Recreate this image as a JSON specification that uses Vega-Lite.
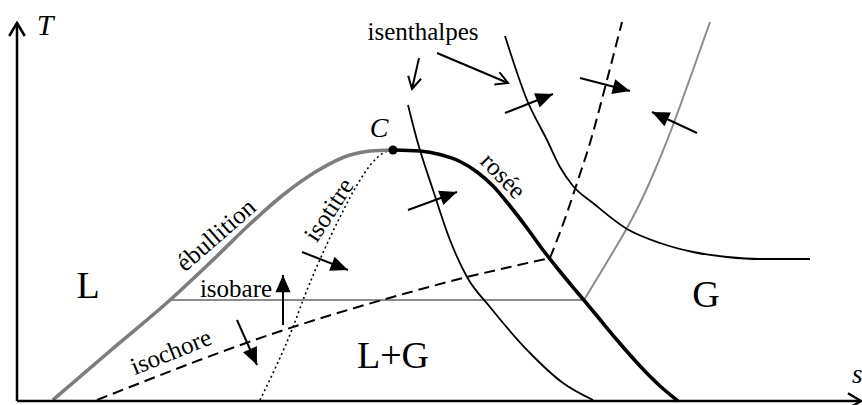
{
  "$schema": "https://vega.github.io/schema/vega-lite/v6.json",
  "width": 862,
  "height": 405,
  "padding": 0,
  "autosize": {"type": "none"},
  "config": {"view": {"stroke": null}, "font": "Liberation Serif", "text": {"font": "Liberation Serif"}},
  "datasets": {
    "curves": [
      {"curve": "ebullition", "i": 0, "s": 53, "T": 5},
      {"curve": "ebullition", "i": 1, "s": 110, "T": 54},
      {"curve": "ebullition", "i": 2, "s": 170, "T": 105},
      {"curve": "ebullition", "i": 3, "s": 215, "T": 147},
      {"curve": "ebullition", "i": 4, "s": 250, "T": 181},
      {"curve": "ebullition", "i": 5, "s": 283, "T": 210},
      {"curve": "ebullition", "i": 6, "s": 317, "T": 234},
      {"curve": "ebullition", "i": 7, "s": 350, "T": 250},
      {"curve": "ebullition", "i": 8, "s": 370, "T": 254},
      {"curve": "ebullition", "i": 9, "s": 393, "T": 255},

      {"curve": "rosee", "i": 0, "s": 393, "T": 255},
      {"curve": "rosee", "i": 1, "s": 420, "T": 254},
      {"curve": "rosee", "i": 2, "s": 440, "T": 250.5},
      {"curve": "rosee", "i": 3, "s": 460, "T": 243.5},
      {"curve": "rosee", "i": 4, "s": 477, "T": 233},
      {"curve": "rosee", "i": 5, "s": 493, "T": 219},
      {"curve": "rosee", "i": 6, "s": 510, "T": 199},
      {"curve": "rosee", "i": 7, "s": 527, "T": 177},
      {"curve": "rosee", "i": 8, "s": 543, "T": 155},
      {"curve": "rosee", "i": 9, "s": 560, "T": 133.5},
      {"curve": "rosee", "i": 10, "s": 577, "T": 113},
      {"curve": "rosee", "i": 11, "s": 595, "T": 91.5},
      {"curve": "rosee", "i": 12, "s": 617, "T": 65},
      {"curve": "rosee", "i": 13, "s": 640, "T": 39},
      {"curve": "rosee", "i": 14, "s": 660, "T": 19},
      {"curve": "rosee", "i": 15, "s": 678, "T": 4},

      {"curve": "isobare_liq", "i": 0, "s": 170, "T": 105},
      {"curve": "isobare_liq", "i": 1, "s": 584, "T": 105},
      {"curve": "isobare_vap", "i": 0, "s": 584, "T": 105},
      {"curve": "isobare_vap", "i": 1, "s": 610, "T": 148},
      {"curve": "isobare_vap", "i": 2, "s": 627, "T": 177},
      {"curve": "isobare_vap", "i": 3, "s": 643, "T": 208},
      {"curve": "isobare_vap", "i": 4, "s": 655, "T": 235},
      {"curve": "isobare_vap", "i": 5, "s": 670, "T": 272},
      {"curve": "isobare_vap", "i": 6, "s": 693, "T": 335},
      {"curve": "isobare_vap", "i": 7, "s": 710, "T": 383},

      {"curve": "isochore_liq", "i": 0, "s": 97, "T": 5},
      {"curve": "isochore_liq", "i": 1, "s": 293, "T": 78},
      {"curve": "isochore_liq", "i": 2, "s": 407, "T": 112},
      {"curve": "isochore_liq", "i": 3, "s": 467, "T": 128},
      {"curve": "isochore_liq", "i": 4, "s": 510, "T": 138},
      {"curve": "isochore_liq", "i": 5, "s": 550, "T": 147},
      {"curve": "isochore_vap", "i": 0, "s": 550, "T": 147},
      {"curve": "isochore_vap", "i": 1, "s": 567, "T": 192},
      {"curve": "isochore_vap", "i": 2, "s": 577, "T": 222},
      {"curve": "isochore_vap", "i": 3, "s": 590, "T": 262},
      {"curve": "isochore_vap", "i": 4, "s": 607, "T": 325},
      {"curve": "isochore_vap", "i": 5, "s": 622, "T": 383},

      {"curve": "isotitre", "i": 0, "s": 260, "T": 5},
      {"curve": "isotitre", "i": 1, "s": 293, "T": 78},
      {"curve": "isotitre", "i": 2, "s": 305, "T": 110},
      {"curve": "isotitre", "i": 3, "s": 322, "T": 150},
      {"curve": "isotitre", "i": 4, "s": 340, "T": 188},
      {"curve": "isotitre", "i": 5, "s": 357, "T": 220},
      {"curve": "isotitre", "i": 6, "s": 372, "T": 242},
      {"curve": "isotitre", "i": 7, "s": 385, "T": 253},
      {"curve": "isotitre", "i": 8, "s": 392, "T": 255},

      {"curve": "isenthalpe_1", "i": 0, "s": 408, "T": 300},
      {"curve": "isenthalpe_1", "i": 1, "s": 417, "T": 265},
      {"curve": "isenthalpe_1", "i": 2, "s": 433, "T": 215},
      {"curve": "isenthalpe_1", "i": 3, "s": 450, "T": 165},
      {"curve": "isenthalpe_1", "i": 4, "s": 467, "T": 128},
      {"curve": "isenthalpe_1", "i": 5, "s": 490, "T": 98},
      {"curve": "isenthalpe_1", "i": 6, "s": 530, "T": 52},
      {"curve": "isenthalpe_1", "i": 7, "s": 563, "T": 22},
      {"curve": "isenthalpe_1", "i": 8, "s": 593, "T": 5},

      {"curve": "isenthalpe_2", "i": 0, "s": 505, "T": 369},
      {"curve": "isenthalpe_2", "i": 1, "s": 527, "T": 305},
      {"curve": "isenthalpe_2", "i": 2, "s": 547, "T": 265},
      {"curve": "isenthalpe_2", "i": 3, "s": 560, "T": 238},
      {"curve": "isenthalpe_2", "i": 4, "s": 573, "T": 219},
      {"curve": "isenthalpe_2", "i": 5, "s": 593, "T": 202},
      {"curve": "isenthalpe_2", "i": 6, "s": 627, "T": 176},
      {"curve": "isenthalpe_2", "i": 7, "s": 660, "T": 162},
      {"curve": "isenthalpe_2", "i": 8, "s": 693, "T": 153},
      {"curve": "isenthalpe_2", "i": 9, "s": 727, "T": 148},
      {"curve": "isenthalpe_2", "i": 10, "s": 760, "T": 146},
      {"curve": "isenthalpe_2", "i": 11, "s": 810, "T": 146}
    ],
    "arrows": [
      {"kind": "axis", "s": 17, "T": 4, "s2": 17, "T2": 382},
      {"kind": "axis", "s": 17, "T": 4, "s2": 861, "T2": 4},
      {"kind": "pointer", "s": 419, "T": 347, "s2": 412, "T2": 316},
      {"kind": "pointer", "s": 437, "T": 352, "s2": 508, "T2": 322},
      {"kind": "vector", "s": 302, "T": 153, "s2": 348, "T2": 135},
      {"kind": "vector", "s": 237, "T": 85, "s2": 257, "T2": 40},
      {"kind": "vector", "s": 283, "T": 80, "s2": 283, "T2": 130},
      {"kind": "vector", "s": 408, "T": 195, "s2": 457, "T2": 213},
      {"kind": "vector", "s": 505, "T": 292, "s2": 553, "T2": 311},
      {"kind": "vector", "s": 580, "T": 327, "s2": 630, "T2": 314},
      {"kind": "vector", "s": 697, "T": 272, "s2": 652, "T2": 293}
    ],
    "labels": [
      {"group": "small", "text": "isenthalpes", "s": 423, "T": 365},
      {"group": "small", "text": "isobare", "s": 236, "T": 108},
      {"group": "big", "text": "L", "s": 88, "T": 107},
      {"group": "big", "text": "L+G", "s": 393, "T": 37},
      {"group": "big", "text": "G", "s": 706, "T": 98},
      {"group": "C", "text": "C", "s": 379, "T": 268},
      {"group": "T", "text": "T", "s": 45, "T": 370},
      {"group": "s", "text": "s", "s": 852, "T": 22},
      {"group": "ebullition", "text": "ébullition", "s": 216, "T": 170},
      {"group": "isotitre", "text": "isotitre", "s": 329, "T": 195},
      {"group": "rosee", "text": "rosée", "s": 503, "T": 229},
      {"group": "isochore", "text": "isochore", "s": 171, "T": 53}
    ]
  },
  "encoding": {
    "x": {"field": "s", "type": "quantitative", "scale": {"domain": [0, 862], "nice": false, "zero": false}, "axis": null},
    "y": {"field": "T", "type": "quantitative", "scale": {"domain": [0, 405], "nice": false, "zero": false}, "axis": null}
  },
  "layer": [
    {
      "data": {"name": "curves"},
      "transform": [{"filter": "datum.curve === 'isotitre'"}],
      "mark": {"type": "line", "interpolate": "monotone", "color": "#000", "strokeWidth": 1.6, "strokeDash": [2, 3]},
      "encoding": {"order": {"field": "i"}, "detail": {"field": "curve"}}
    },
    {
      "data": {"name": "curves"},
      "transform": [{"filter": "datum.curve === 'isobare_liq' || datum.curve === 'isobare_vap'"}],
      "mark": {"type": "line", "interpolate": "monotone", "color": "#8c8c8c", "strokeWidth": 2},
      "encoding": {"order": {"field": "i"}, "detail": {"field": "curve"}}
    },
    {
      "data": {"name": "curves"},
      "transform": [{"filter": "datum.curve === 'isochore_liq' || datum.curve === 'isochore_vap'"}],
      "mark": {"type": "line", "interpolate": "monotone", "color": "#000", "strokeWidth": 2, "strokeDash": [11, 6]},
      "encoding": {"order": {"field": "i"}, "detail": {"field": "curve"}}
    },
    {
      "data": {"name": "curves"},
      "transform": [{"filter": "datum.curve === 'isenthalpe_1' || datum.curve === 'isenthalpe_2'"}],
      "mark": {"type": "line", "interpolate": "monotone", "color": "#000", "strokeWidth": 1.8},
      "encoding": {"order": {"field": "i"}, "detail": {"field": "curve"}}
    },
    {
      "data": {"name": "curves"},
      "transform": [{"filter": "datum.curve === 'ebullition'"}],
      "mark": {"type": "line", "interpolate": "monotone", "color": "#7d7d7d", "strokeWidth": 3.6},
      "encoding": {"order": {"field": "i"}}
    },
    {
      "data": {"name": "curves"},
      "transform": [{"filter": "datum.curve === 'rosee'"}],
      "mark": {"type": "line", "interpolate": "monotone", "color": "#000", "strokeWidth": 3.6},
      "encoding": {"order": {"field": "i"}}
    },
    {
      "data": {"values": [{"s": 393, "T": 255}]},
      "mark": {"type": "point", "shape": "circle", "filled": true, "color": "#000", "size": 81, "opacity": 1}
    },
    {
      "data": {"name": "arrows"},
      "transform": [{"filter": "datum.kind === 'axis'"}],
      "mark": {"type": "rule", "color": "#000", "strokeWidth": 2.5},
      "encoding": {"x2": {"field": "s2"}, "y2": {"field": "T2"}}
    },
    {
      "data": {"name": "arrows"},
      "transform": [{"filter": "datum.kind !== 'axis'"}],
      "mark": {"type": "rule", "color": "#000", "strokeWidth": 2},
      "encoding": {"x2": {"field": "s2"}, "y2": {"field": "T2"}}
    },
    {
      "data": {"name": "arrows"},
      "transform": [
        {"filter": "datum.kind === 'axis'"},
        {"calculate": "atan2(datum.s2 - datum.s, datum.T2 - datum.T) * 180 / PI", "as": "heading"}
      ],
      "mark": {"type": "point", "shape": "M-0.6,1L0,0L0.6,1", "filled": false, "color": "#000", "strokeWidth": 2.5, "size": 676, "opacity": 1},
      "encoding": {
        "x": {"field": "s2", "type": "quantitative"},
        "y": {"field": "T2", "type": "quantitative"},
        "angle": {"field": "heading", "type": "quantitative", "scale": null}
      }
    },
    {
      "data": {"name": "arrows"},
      "transform": [
        {"filter": "datum.kind === 'pointer'"},
        {"calculate": "atan2(datum.s2 - datum.s, datum.T2 - datum.T) * 180 / PI", "as": "heading"}
      ],
      "mark": {"type": "point", "shape": "M-0.55,1L0,0L0.55,1", "filled": false, "color": "#000", "strokeWidth": 2, "size": 576, "opacity": 1},
      "encoding": {
        "x": {"field": "s2", "type": "quantitative"},
        "y": {"field": "T2", "type": "quantitative"},
        "angle": {"field": "heading", "type": "quantitative", "scale": null}
      }
    },
    {
      "data": {"name": "arrows"},
      "transform": [
        {"filter": "datum.kind === 'vector'"},
        {"calculate": "atan2(datum.s2 - datum.s, datum.T2 - datum.T) * 180 / PI", "as": "heading"}
      ],
      "mark": {"type": "point", "shape": "M0,0L0.875,2L-0.875,2Z", "filled": true, "color": "#000", "size": 300, "opacity": 1, "strokeWidth": 0},
      "encoding": {
        "x": {"field": "s2", "type": "quantitative"},
        "y": {"field": "T2", "type": "quantitative"},
        "angle": {"field": "heading", "type": "quantitative", "scale": null}
      }
    },
    {
      "data": {"name": "labels"},
      "transform": [{"filter": "datum.group === 'small'"}],
      "mark": {"type": "text", "font": "Liberation Serif", "fontSize": 25, "align": "center", "baseline": "alphabetic", "color": "#000"},
      "encoding": {"text": {"field": "text"}}
    },
    {
      "data": {"name": "labels"},
      "transform": [{"filter": "datum.group === 'big'"}],
      "mark": {"type": "text", "font": "Liberation Serif", "fontSize": 38, "align": "center", "baseline": "alphabetic", "color": "#000"},
      "encoding": {"text": {"field": "text"}}
    },
    {
      "data": {"name": "labels"},
      "transform": [{"filter": "datum.group === 'C'"}],
      "mark": {"type": "text", "font": "Liberation Serif", "fontSize": 28, "fontStyle": "italic", "align": "center", "baseline": "alphabetic", "color": "#000"},
      "encoding": {"text": {"field": "text"}}
    },
    {
      "data": {"name": "labels"},
      "transform": [{"filter": "datum.group === 'T'"}],
      "mark": {"type": "text", "font": "Liberation Serif", "fontSize": 30, "fontStyle": "italic", "align": "center", "baseline": "alphabetic", "color": "#000"},
      "encoding": {"text": {"field": "text"}}
    },
    {
      "data": {"name": "labels"},
      "transform": [{"filter": "datum.group === 's'"}],
      "mark": {"type": "text", "font": "Liberation Serif", "fontSize": 27, "fontStyle": "italic", "align": "left", "baseline": "alphabetic", "color": "#000"},
      "encoding": {"text": {"field": "text"}}
    },
    {
      "data": {"name": "labels"},
      "transform": [{"filter": "datum.group === 'ebullition'"}],
      "mark": {"type": "text", "font": "Liberation Serif", "fontSize": 25, "angle": -41, "align": "center", "baseline": "middle", "color": "#000"},
      "encoding": {"text": {"field": "text"}}
    },
    {
      "data": {"name": "labels"},
      "transform": [{"filter": "datum.group === 'isotitre'"}],
      "mark": {"type": "text", "font": "Liberation Serif", "fontSize": 25, "angle": -57, "align": "center", "baseline": "middle", "color": "#000"},
      "encoding": {"text": {"field": "text"}}
    },
    {
      "data": {"name": "labels"},
      "transform": [{"filter": "datum.group === 'rosee'"}],
      "mark": {"type": "text", "font": "Liberation Serif", "fontSize": 25, "angle": 46, "align": "center", "baseline": "middle", "color": "#000"},
      "encoding": {"text": {"field": "text"}}
    },
    {
      "data": {"name": "labels"},
      "transform": [{"filter": "datum.group === 'isochore'"}],
      "mark": {"type": "text", "font": "Liberation Serif", "fontSize": 25, "angle": -22, "align": "center", "baseline": "middle", "color": "#000"},
      "encoding": {"text": {"field": "text"}}
    }
  ]
}
